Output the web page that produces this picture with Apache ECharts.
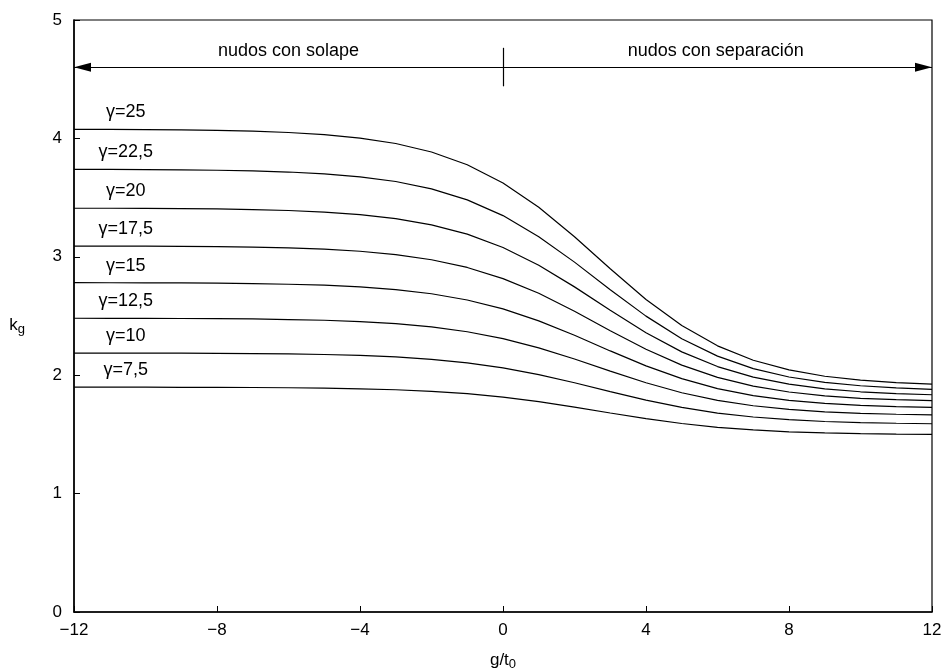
<!DOCTYPE html>
<html><head><meta charset="utf-8">
<script src="https://cdn.jsdelivr.net/npm/echarts@6/dist/echarts.min.js"></script>
<style>html,body{margin:0;padding:0;background:#fff}#c{width:944px;height:670px}</style>
</head><body><div id="c"></div>
<script>
// g/t0 positions
const gt = [-12,-11,-10,-9,-8,-7,-6,-5,-4,-3,-2,-1,0,1,2,3,4,5,6,7,8,9,10,11,12];
// k_g values for each gamma
const kg_7_5  = [1.899,1.899,1.899,1.898,1.897,1.896,1.894,1.891,1.885,1.877,1.864,1.844,1.815,1.777,1.731,1.681,1.633,1.592,1.560,1.538,1.522,1.513,1.506,1.502,1.500];
const kg_10   = [2.187,2.187,2.187,2.186,2.185,2.183,2.180,2.175,2.167,2.154,2.134,2.104,2.062,2.005,1.936,1.861,1.789,1.728,1.680,1.647,1.624,1.609,1.600,1.594,1.590];
const kg_12_5 = [2.481,2.480,2.480,2.479,2.477,2.475,2.470,2.464,2.453,2.435,2.408,2.367,2.309,2.231,2.137,2.034,1.936,1.852,1.788,1.742,1.711,1.690,1.678,1.670,1.665];
const kg_15   = [2.782,2.781,2.780,2.779,2.777,2.774,2.768,2.760,2.746,2.723,2.688,2.635,2.560,2.459,2.337,2.205,2.079,1.971,1.887,1.828,1.788,1.762,1.745,1.735,1.729];
const kg_17_5 = [3.091,3.091,3.090,3.088,3.086,3.082,3.075,3.064,3.047,3.019,2.975,2.910,2.816,2.692,2.540,2.376,2.219,2.085,1.982,1.908,1.858,1.826,1.805,1.793,1.785];
const kg_20   = [3.410,3.410,3.409,3.407,3.404,3.399,3.391,3.378,3.357,3.323,3.270,3.192,3.079,2.928,2.746,2.549,2.359,2.197,2.073,1.984,1.924,1.885,1.860,1.845,1.835];
const kg_22_5 = [3.739,3.738,3.737,3.735,3.731,3.725,3.716,3.700,3.675,3.636,3.574,3.481,3.348,3.170,2.955,2.722,2.499,2.308,2.161,2.056,1.985,1.940,1.911,1.893,1.881];
const kg_25   = [4.077,4.076,4.074,4.072,4.067,4.061,4.050,4.032,4.003,3.957,3.885,3.777,3.623,3.418,3.169,2.899,2.640,2.419,2.248,2.126,2.045,1.991,1.958,1.937,1.924];
const gammaLabels = ['γ=7,5','γ=10','γ=12,5','γ=15','γ=17,5','γ=20','γ=22,5','γ=25'];
const xTicks = [-12,-8,-4,0,4,8,12];
const yTicks = [0,1,2,3,4,5];
const regionLabels = ['nudos con solape','nudos con separación'];
const regionCenters = [-6, 5.95];
const arrowY = 4.6;
const dividerY = [4.44, 4.765];
const regionTextY = 4.74;
const labelX = -10.55;

const allK = [kg_7_5,kg_10,kg_12_5,kg_15,kg_17_5,kg_20,kg_22_5,kg_25];
const FONT = '"Liberation Sans", Arial, sans-serif';

const series = allK.map((arr, i) => ({
  type: 'line',
  name: gammaLabels[i],
  data: gt.map((x, j) => [x, arr[j]]),
  showSymbol: false,
  symbol: 'none',
  smooth: false,
  lineStyle: { color: '#000', width: 1.2 },
  silent: true,
  animation: false,
  markPoint: {
    symbol: 'circle', symbolSize: 0, silent: true, animation: false,
    label: { show: true, position: 'inside', offset: [0, -17], color: '#000', fontSize: 18, fontFamily: FONT, formatter: gammaLabels[i] },
    data: [{ coord: [labelX, arr[1]] }]
  }
}));

series.push({
  type: 'line', data: [], silent: true, animation: false,
  markLine: {
    silent: true, animation: false,
    label: { show: false },
    lineStyle: { color: '#000', width: 1.2, type: 'solid' },
    data: [
      [ { coord: [xTicks[0], arrowY], symbol: 'triangle', symbolSize: [9, 17], symbolOffset: [0, 8.5] },
        { coord: [xTicks[xTicks.length-1], arrowY], symbol: 'triangle', symbolSize: [9, 17], symbolOffset: [0, 8.5] } ],
      [ { coord: [0, dividerY[0]], symbol: 'none' },
        { coord: [0, dividerY[1]], symbol: 'none' } ]
    ]
  },
  markPoint: {
    symbol: 'circle', symbolSize: 0, silent: true, animation: false,
    label: { show: true, position: 'inside', color: '#000', fontSize: 18, fontFamily: FONT, formatter: p => p.name },
    data: regionLabels.map((t, i) => ({ name: t, coord: [regionCenters[i], regionTextY] }))
  }
});

const chart = echarts.init(document.getElementById('c'), null, { renderer: 'canvas' });
chart.setOption({
  animation: false,
  backgroundColor: '#fff',
  grid: { left: 74, right: 12, top: 20, bottom: 58, show: true, borderColor: '#000', borderWidth: 1.2, containLabel: false, outerBoundsMode: 'none' },
  xAxis: {
    type: 'value', min: xTicks[0], max: xTicks[xTicks.length-1], interval: 4,
    axisLine: { show: true, onZero: false, lineStyle: { color: '#000', width: 1.5 } },
    axisTick: { show: true, inside: true, length: 6, lineStyle: { color: '#000', width: 1 } },
    axisLabel: { color: '#000', fontSize: 17, fontFamily: FONT, margin: 10, formatter: v => (v < 0 ? '\u2212' + Math.abs(v) : String(v)) },
    splitLine: { show: false },
    name: '{m|g/t}{s|0}', nameLocation: 'middle', nameGap: 37,
    nameTextStyle: { color: '#000', fontFamily: FONT, rich: { m: { fontSize: 17, fontFamily: FONT, color: '#000' }, s: { fontSize: 13, fontFamily: FONT, color: '#000', verticalAlign: 'bottom', padding: [9, 0, 0, 0] } } }
  },
  yAxis: {
    type: 'value', min: yTicks[0], max: yTicks[yTicks.length-1], interval: 1,
    axisLine: { show: true, onZero: false, lineStyle: { color: '#000', width: 1.5 } },
    axisTick: { show: true, inside: true, length: 6, lineStyle: { color: '#000', width: 1 } },
    axisLabel: { color: '#000', fontSize: 17, fontFamily: FONT, margin: 12 },
    splitLine: { show: false },
    name: '{m|k}{s|g}', nameLocation: 'middle', nameGap: 49, nameRotate: 0,
    nameTextStyle: { color: '#000', fontFamily: FONT, padding: [18, 0, 0, 0], rich: { m: { fontSize: 17, fontFamily: FONT, color: '#000' }, s: { fontSize: 13, fontFamily: FONT, color: '#000', verticalAlign: 'bottom', padding: [9, 0, 0, 0] } } }
  },
  series: series
});
</script>
</body></html>
